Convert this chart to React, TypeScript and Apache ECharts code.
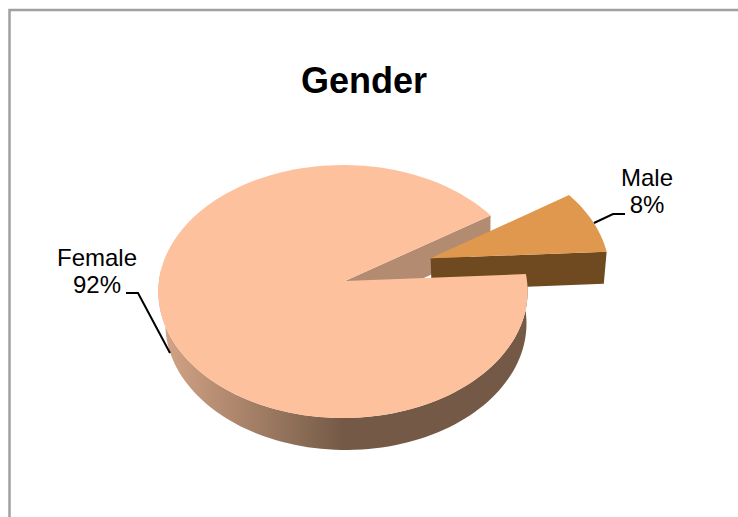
import React, { useEffect, useRef } from "react";
import * as echarts from "echarts";

const categories = ["Female", "Male"];
const values = [91.6, 8.4];
const titleText = "Gender";

const FONT = "Liberation Sans, Arial, sans-serif";
const START = -3.2;
const APEX = [345, 281];

// perspective projection of a unit disc onto the screen
const project = (u: number, v: number) => {
  const w = 1 - 0.083 * v + 0.011 * u;
  return [APEX[0] + (184 * u) / w, APEX[1] + (125.6 * v) / w];
};
const lower = (p: number[]) => [477 + 0.978 * (p[0] - 477), p[1] + 32];
const rad = (d: number) => (d * Math.PI) / 180;

const arc = (from: number, to: number, ox: number, oy: number) => {
  const n = Math.max(2, Math.ceil(Math.abs(to - from) / 2));
  const pts: number[][] = [];
  for (let i = 0; i <= n; i++) {
    const a = rad(from + ((to - from) * i) / n);
    pts.push(project(ox + Math.cos(a), oy + Math.sin(a)));
  }
  return pts;
};

const App = () => {
  const ref = useRef<HTMLDivElement>(null);
  useEffect(() => {
    document.body.style.margin = "0";
    const chart = echarts.init(ref.current!, null, { renderer: "svg" });
    const total = values.reduce((a, b) => a + b, 0);
    const sweeps = values.map((v) => (v / total) * 360);

    const renderFemale = () => {
      const from = START;
      const to = START - sweeps[1];
      const outline = arc(from, from + sweeps[0], 0, 0);
      const apex = project(0, 0);
      const front = arc(from, 185, 0, 0);
      const backEdge = project(Math.cos(rad(to)), Math.sin(rad(to)));
      return [
        {
          type: "polygon",
          z2: 1,
          shape: { points: [apex, backEdge, lower(backEdge), lower(apex)] },
          style: { fill: "#B28B70" },
        },
        {
          type: "polygon",
          z2: 4,
          shape: { points: [...front, ...front.map(lower).reverse()] },
          style: {
            fill: new echarts.graphic.LinearGradient(0, 0, 1, 0, [
              { offset: 0, color: "#D6A688" },
              { offset: 0.5, color: "#745A46" },
              { offset: 1, color: "#745A46" },
            ]),
          },
        },
        {
          type: "polygon",
          z2: 5,
          shape: { points: [apex, ...outline] },
          style: { fill: "#FEC19E" },
        },
      ];
    };

    const renderMale = () => {
      const ox = 0.475;
      const oy = -0.185;
      const from = START;
      const to = START - sweeps[1];
      const apex = project(ox, oy);
      const outer = arc(from, to, ox, oy);
      return [
        {
          type: "polygon",
          z2: 2,
          shape: { points: [apex, outer[0], lower(outer[0]), lower(apex)] },
          style: { fill: "#6F4A20" },
        },
        {
          type: "polygon",
          z2: 3,
          shape: { points: [apex, ...outer] },
          style: { fill: "#E0984E" },
        },
      ];
    };

    chart.setOption({
      animation: false,
      title: {
        text: titleText,
        left: 359,
        top: 75,
        textAlign: "center",
        textVerticalAlign: "middle",
        textStyle: { fontFamily: FONT, fontWeight: "bold", fontSize: 36, color: "#000" },
      },
      graphic: [
        {
          type: "polyline",
          shape: { points: [[9.5, 517], [9.5, 10], [738, 10]] },
          style: { stroke: "#A0A0A0", lineWidth: 2.5, fill: "none" },
        },
        {
          type: "polyline",
          z: 10,
          shape: { points: [[126, 293], [138, 293], [170, 353]] },
          style: { stroke: "#000", lineWidth: 2, fill: "none" },
        },
        {
          type: "polyline",
          z: 10,
          shape: { points: [[594, 223], [613, 214], [625, 214]] },
          style: { stroke: "#000", lineWidth: 2, fill: "none" },
        },
        {
          type: "text",
          z: 10,
          x: 97,
          y: 271,
          style: {
            text: `${categories[0]}\n${Math.round(values[0])}%`,
            fontFamily: FONT, fontSize: 24, lineHeight: 27,
            fill: "#000", align: "center", verticalAlign: "middle",
          },
        },
        {
          type: "text",
          z: 10,
          x: 647,
          y: 191,
          style: {
            text: `${categories[1]}\n${Math.round(values[1])}%`,
            fontFamily: FONT, fontSize: 24, lineHeight: 27,
            fill: "#000", align: "center", verticalAlign: "middle",
          },
        },
      ],
      series: [
        {
          type: "custom",
          coordinateSystem: "none",
          data: categories.map((name, i) => ({ name, value: values[i] })),
          renderItem: (params: any) => ({
            type: "group",
            children: params.dataIndex === 0 ? renderFemale() : renderMale(),
          }),
        },
      ],
    });
    return () => chart.dispose();
  }, []);
  return <div ref={ref} style={{ width: 738, height: 517 }} />;
};

export default App;
